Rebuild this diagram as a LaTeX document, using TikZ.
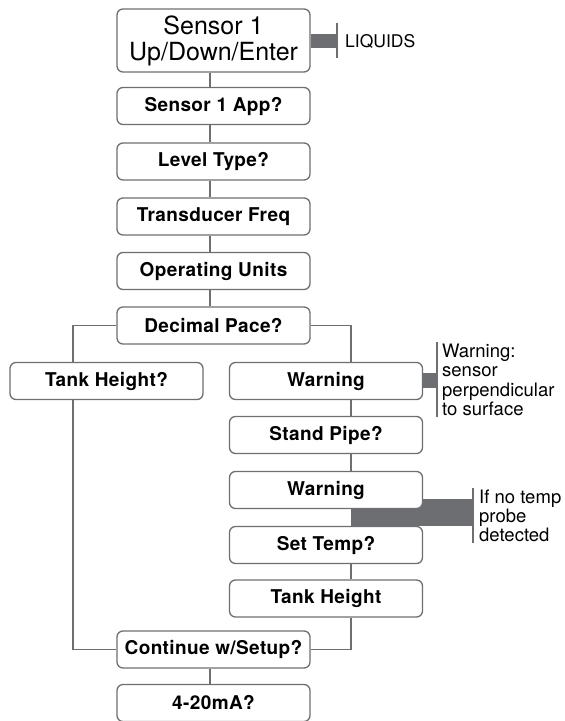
\documentclass[tikz,border=0pt]{standalone}
\usepackage{fontspec}
\setmainfont{TeX Gyre Heros}
\usetikzlibrary{backgrounds}

\definecolor{boxgray}{RGB}{110,111,114}
\definecolor{bargray}{RGB}{109,110,113}

\begin{document}
\begin{tikzpicture}[x=1pt, y=-1pt,
  box/.style={draw=boxgray, line width=1.3pt, rounded corners=6pt, fill=white,
    minimum width=193pt, minimum height=37pt, inner sep=0pt,
    font=\fontsize{19}{22}\selectfont\bfseries\addfontfeatures{LetterSpace=2}},
  sidetext/.style={anchor=west, align=left, inner sep=0pt,
    font=\fontsize{18.5}{19.3}\selectfont},
  link/.style={draw=boxgray, line width=1.1pt},
  bracket/.style={draw=boxgray, line width=1.6pt},
  bar/.style={fill=bargray}]
\useasboundingbox (0,0) rectangle (565,721);

% column lines
\coordinate (mcol) at (210,0);
\coordinate (lcol) at (73,0);
\coordinate (rcol) at (351,0);

% main column
\path (213.5,40.5) node[box, minimum height=63pt, align=center,
  font=\fontsize{25}{26}\selectfont] (sens) {Sensor 1\\Up/Down/Enter};
\path (213.5,106) node[box] (app) {Sensor 1 App?};
\path (213.5,161.5) node[box] (level) {Level Type?};
\path (213.5,216.5) node[box] (freq) {Transducer Freq};
\path (213.5,271) node[box] (units) {Operating Units};
\path (213.5,325.5) node[box] (dec) {Decimal Pace?};

% left branch
\path (106.5,381) node[box] (tankq) {Tank Height?};

% right branch
\path (326,381) node[box] (warn1) {Warning};
\path (326,435) node[box] (pipe) {Stand Pipe?};
\path (326,490) node[box] (warn2) {Warning};
\path (326,545) node[box] (temp) {Set Temp?};
\path (326,598.5) node[box] (tankh) {Tank Height};

\path (213.5,649.5) node[box] (cont) {Continue w/Setup?};
\path (213.5,703) node[box] (ma) {4-20mA?};

% links
\draw[link] (sens.south -| mcol) -- (app.north -| mcol);
\draw[link] (app.south -| mcol) -- (level.north -| mcol);
\draw[link] (level.south -| mcol) -- (freq.north -| mcol);
\draw[link] (freq.south -| mcol) -- (units.north -| mcol);
\draw[link] (units.south -| mcol) -- (dec.north -| mcol);
\draw[link] (dec.west) -| (tankq.north -| lcol);
\draw[link] (tankq.south -| lcol) |- (cont.west);
\draw[link] (dec.east) -| (warn1.north -| rcol);
\draw[link] (warn1.south -| rcol) -- (pipe.north -| rcol);
\draw[link] (pipe.south -| rcol) -- (warn2.north -| rcol);
\draw[link] (temp.south -| rcol) -- (tankh.north -| rcol);
\draw[link] (tankh.south -| rcol) |- (cont.east);
\draw[link] (cont.south -| mcol) -- (ma.north -| mcol);

% side notes
\coordinate (liqbr) at (337,40.5);
\coordinate (warnbr) at (437,380);
\coordinate (tempbr) at (473,515.5);

\fill[bar] ([yshift=7pt]sens.east) rectangle ([yshift=-7pt]liqbr);
\draw[bracket] ([yshift=17.5pt]liqbr) -- ([yshift=-17.5pt]liqbr);
\node[sidetext, font=\fontsize{17.5}{20}\selectfont] (liq) at (345,41) {LIQUIDS};

\fill[bar] ([yshift=8pt]warn1.east) rectangle ([yshift=-8pt]warnbr);
\draw[bracket] ([yshift=38pt]warnbr) -- ([yshift=-37pt]warnbr);
\node[sidetext] (warnnote) at (442,380) {Warning:\\sensor\\perpendicular\\to surface};

\begin{scope}[on background layer]
\fill[bar] ([yshift=10pt]warn2.south -| rcol) rectangle (temp.north -| tempbr);
\end{scope}
\draw[bracket] ([yshift=27.5pt]tempbr) -- ([yshift=-27.5pt]tempbr);
\node[sidetext] (tempnote) at (479,516) {If no temp\\probe\\detected};
\end{tikzpicture}
\end{document}
